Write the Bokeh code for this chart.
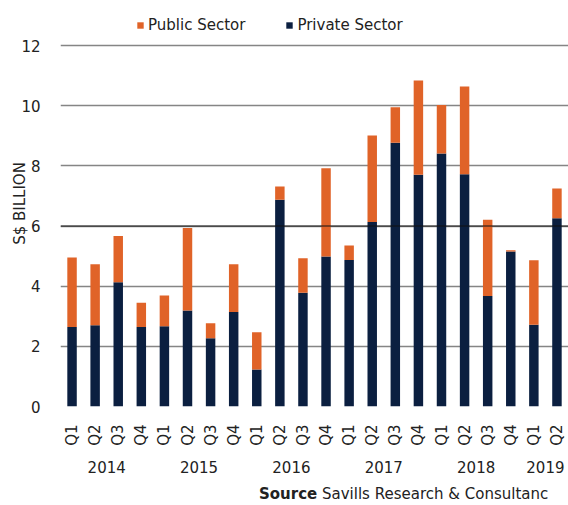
from bokeh.plotting import figure
from bokeh.models import FactorRange, Range1d, Legend, LegendItem, Span, ColumnDataSource, Div
from bokeh.layouts import column
from bokeh.embed import file_html
from bokeh.resources import INLINE

years = ["2014"] * 4 + ["2015"] * 4 + ["2016"] * 4 + ["2017"] * 4 + ["2018"] * 4 + ["2019"] * 2
quarters = ["Q1", "Q2", "Q3", "Q4"] * 5 + ["Q1", "Q2"]
private = [2.64, 2.70, 4.13, 2.64, 2.67, 3.19, 2.27, 3.14, 1.23, 6.87, 3.78,
           4.99, 4.87, 6.13, 8.77, 7.70, 8.41, 7.72, 3.67, 5.15, 2.72, 6.26]
public = [2.31, 2.03, 1.54, 0.81, 1.02, 2.74, 0.50, 1.59, 1.24, 0.44, 1.15,
          2.93, 0.48, 2.88, 1.18, 3.14, 1.61, 2.92, 2.54, 0.04, 2.14, 0.99]
y_ticks = [0, 2, 4, 6, 8, 10, 12]

FONT = "DejaVu Sans"
NAVY = "#0B1F40"
ORANGE = "#E06328"
TXT = "#222222"

factors = list(zip(years, quarters))
src = ColumnDataSource(dict(x=factors, private=private, public=public))

p = figure(width=568, height=484, output_backend="svg", toolbar_location=None,
           x_range=FactorRange(*factors, group_padding=0, range_padding=0),
           y_range=Range1d(0, 13.496),
           min_border_left=60, min_border_right=0, min_border_top=0, min_border_bottom=78)

rs = p.vbar_stack(["private", "public"], x="x", width=0.41, source=src,
                  color=[NAVY, ORANGE], line_color=None)

p.outline_line_color = None
p.background_fill_color = "white"
p.border_fill_color = "white"

p.xgrid.grid_line_color = None
p.ygrid.grid_line_color = "#858585"
p.ygrid.grid_line_width = 1.5
p.yaxis.ticker = y_ticks
p.add_layout(Span(location=6, dimension="width", line_color="#111111", line_width=1.2))

p.yaxis.axis_line_color = None
p.yaxis.major_tick_line_color = None
p.yaxis.minor_tick_line_color = None
p.yaxis.major_label_standoff = 14
p.yaxis.major_label_text_font = FONT
p.yaxis.major_label_text_font_size = "15px"
p.yaxis.major_label_text_color = TXT
p.yaxis.axis_label = "S$ BILLION"
p.yaxis.axis_label_text_font = FONT
p.yaxis.axis_label_text_font_size = "15px"
p.yaxis.axis_label_text_font_style = "normal"
p.yaxis.axis_label_text_color = TXT
p.yaxis.axis_label_standoff = -11

xa = p.xaxis[0]
xa.axis_line_color = None
xa.major_tick_line_color = None
xa.minor_tick_line_color = None
xa.major_label_orientation = 1.5708
xa.major_label_standoff = 12
xa.major_label_text_font = FONT
xa.major_label_text_font_size = "15px"
xa.major_label_text_color = TXT
xa.group_text_font = FONT
xa.group_text_font_size = "15px"
xa.group_text_font_style = "normal"
xa.group_text_color = TXT
xa.group_text_line_height = 1.8
xa.group_label_orientation = "horizontal"
xa.separator_line_color = None

legend = Legend(items=[LegendItem(label="Public Sector", renderers=[rs[1]]),
                       LegendItem(label="Private Sector", renderers=[rs[0]])],
                orientation="horizontal", location=(76, 372),
                glyph_width=8, glyph_height=8, label_standoff=4, spacing=40,
                label_height=16, padding=0, margin=0, border_line_color=None,
                background_fill_alpha=0,
                label_text_font=FONT, label_text_font_size="15px", label_text_color=TXT)
p.add_layout(legend, "center")

source = Div(text="<b>Source</b> Savills Research &amp; Consultanc", width=568, height=21,
             margin=(0, 0, 0, 0),
             styles={"padding-left": "259px", "font-family": FONT, "font-size": "15px",
                     "line-height": "21px", "color": TXT, "white-space": "nowrap"})

layout = column(p, source, spacing=0)
open("out.html", "w").write(file_html(layout, INLINE))
